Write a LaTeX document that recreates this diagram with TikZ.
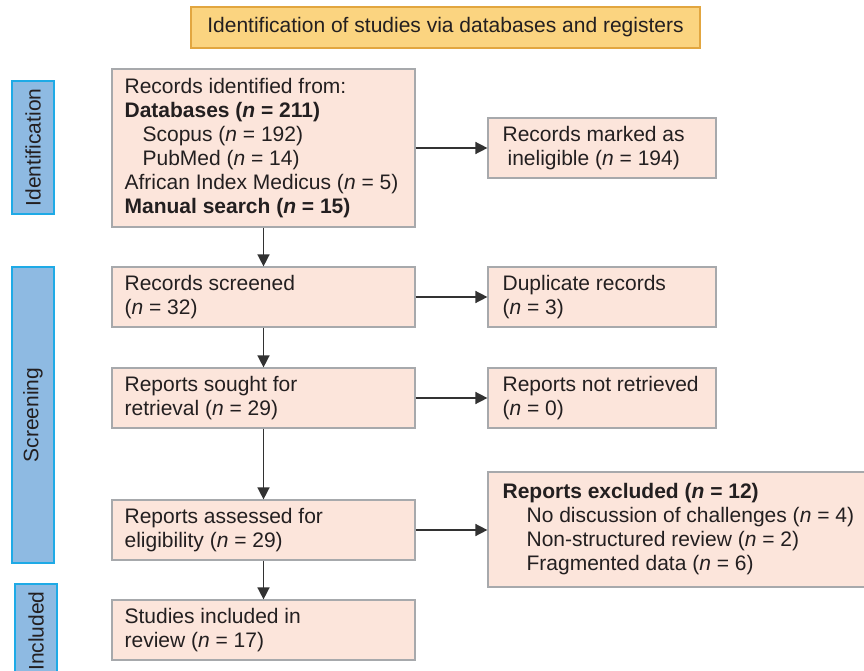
\documentclass[tikz,border=0pt]{standalone}
\usepackage{fontspec}
\setmainfont{Liberation Sans}
\usetikzlibrary{arrows.meta}
\definecolor{hdrfill}{RGB}{251,212,128}
\definecolor{hdrline}{RGB}{226,166,64}
\definecolor{boxfill}{RGB}{252,229,219}
\definecolor{boxline}{RGB}{167,169,172}
\definecolor{barfill}{RGB}{142,186,226}
\definecolor{barline}{RGB}{30,170,230}
\definecolor{txt}{RGB}{35,31,32}
\definecolor{arr}{RGB}{50,50,50}
\newcommand{\mainfs}{\fontsize{21}{24}\selectfont}
\begin{document}
\begin{tikzpicture}[x=1pt,y=-1pt,
  box/.style={draw=boxline, fill=boxfill, line width=1.2pt, rectangle, inner sep=0pt,
    minimum height=60pt},
  lbox/.style={box, minimum width=303pt},
  rbox/.style={box, minimum width=228pt},
  boxtext/.style={anchor=west, align=left, inner sep=0pt, font=\mainfs, text=txt},
  sidebar/.style={draw=barline, fill=barfill, line width=1.2pt, rectangle, inner sep=0pt,
    minimum height=42pt, rotate=90, font=\mainfs, text=txt},
  hdr/.style={draw=hdrline, fill=hdrfill, line width=1.5pt, rectangle, inner sep=0pt,
    minimum width=509pt, minimum height=41pt, font=\mainfs, text=txt},
  conn/.style={draw=arr, line width=1.5pt, -{Triangle[length=12pt,width=12pt]}}]
\clip (0,0) rectangle (864,671);
\fill[white] (0,0) rectangle (864,671);

\node[hdr] (hdr) at (445.5,27.5) {Identification of studies via databases and registers};

\node[sidebar, minimum width=133pt] (idbar) at (33,147.5) {Identification};
\node[sidebar, minimum width=296pt] (scbar) at (33,415) {Screening};
\node[sidebar, minimum width=94pt] (inbar) at (36,631) {Included};

\node[lbox, minimum height=158pt] (b1) at (263.5,148) {};
\node[boxtext] (t1) at ([xshift=13pt]b1.west) {Records identified from:\\
\textbf{Databases (\textit{n} = 211)}\\
\hspace*{18pt}Scopus (\textit{n} = 192)\\
\hspace*{18pt}PubMed (\textit{n} = 14)\\
African Index Medicus (\textit{n} = 5)\\
\textbf{Manual search (\textit{n} = 15)}};

\node[rbox] (r1) at (602,148) {};
\node[boxtext] (tr1) at ([xshift=15pt]r1.west) {Records marked as\\\hspace*{5pt}ineligible (\textit{n} = 194)};

\node[lbox] (b2) at (263.5,297) {};
\node[boxtext] (t2) at ([xshift=13pt]b2.west) {Records screened\\(\textit{n} = 32)};
\node[rbox] (r2) at (602,297) {};
\node[boxtext] (tr2) at ([xshift=15pt]r2.west) {Duplicate records\\(\textit{n} = 3)};

\node[lbox] (b3) at (263.5,398) {};
\node[boxtext] (t3) at ([xshift=13pt]b3.west) {Reports sought for\\retrieval (\textit{n} = 29)};
\node[rbox] (r3) at (602,398) {};
\node[boxtext] (tr3) at ([xshift=15pt]r3.west) {Reports not retrieved\\(\textit{n} = 0)};

\node[lbox] (b4) at (263.5,530) {};
\node[boxtext] (t4) at ([xshift=13pt]b4.west) {Reports assessed for\\eligibility (\textit{n} = 29)};
\node[box, minimum width=392pt, minimum height=115pt] (r4) at (684,529.5) {};
\node[boxtext] (tr4) at ([xshift=15pt]r4.west) {\textbf{Reports excluded (\textit{n} = 12)}\\
\hspace*{24pt}No discussion of challenges (\textit{n} = 4)\\
\hspace*{24pt}Non-structured review (\textit{n} = 2)\\
\hspace*{24pt}Fragmented data (\textit{n} = 6)};

\node[lbox] (b5) at (263.5,630) {};
\node[boxtext] (t5) at ([xshift=13pt]b5.west) {Studies included in\\review (\textit{n} = 17)};

\draw[conn] (b1) -- (b2);
\draw[conn] (b2) -- (b3);
\draw[conn] (b3) -- (b4);
\draw[conn] (b4) -- (b5);
\draw[conn] (b1.east) -- (r1.west);
\draw[conn] (b2.east) -- (r2.west);
\draw[conn] (b3.east) -- (r3.west);
\draw[conn] (b4.east) -- (b4.east -| r4.west);
\end{tikzpicture}
\end{document}
